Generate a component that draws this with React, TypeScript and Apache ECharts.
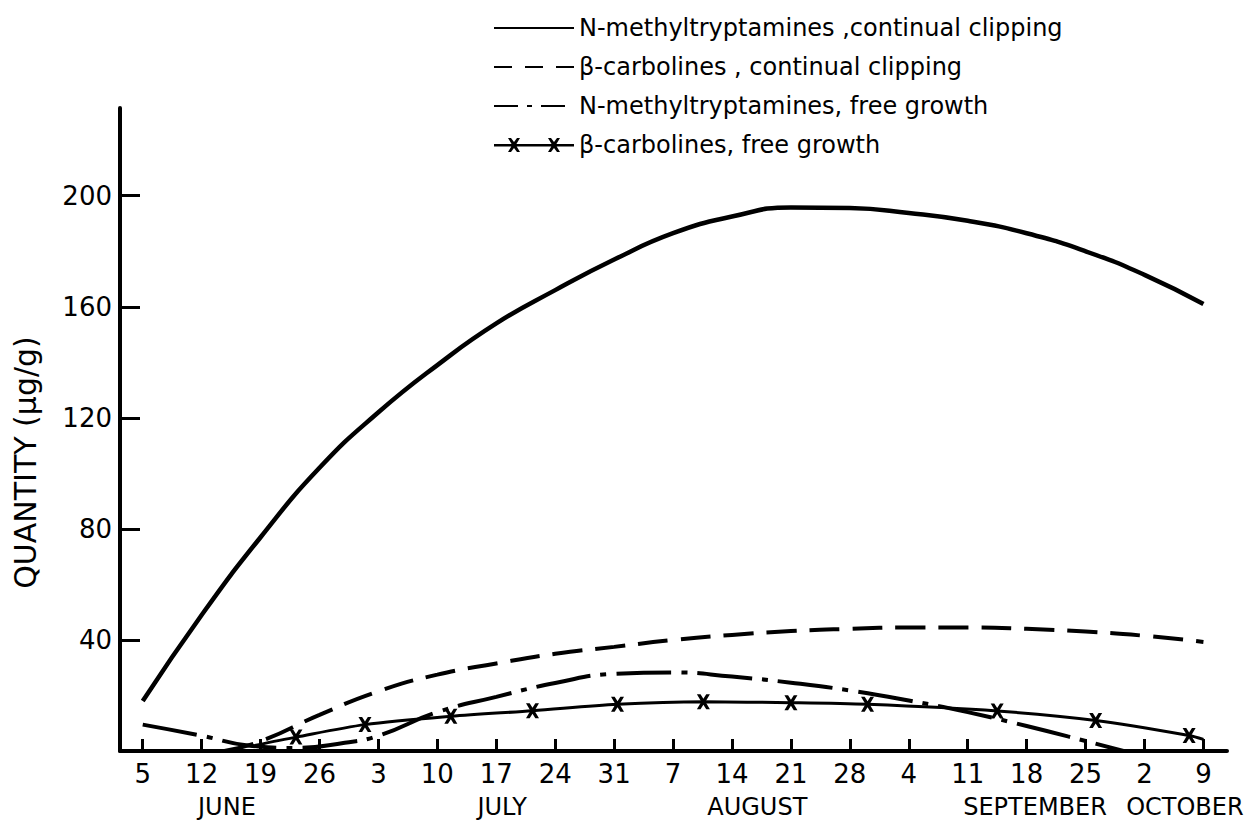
import React, { useEffect, useRef } from "react";
import * as echarts from "echarts";

// x values are days counted from 5 June
const dayTickValues = [0, 7, 14, 21, 28, 35, 42, 49, 56, 63, 70, 77, 84, 91, 98, 105, 112, 119, 126];
const dayTickLabels = ["5", "12", "19", "26", "3", "10", "17", "24", "31", "7", "14", "21", "28", "4", "11", "18", "25", "2", "9"];
const monthLabelValues = [10, 42.7, 73, 106, 123.8];
const monthNames = ["JUNE", "JULY", "AUGUST", "SEPTEMBER", "OCTOBER"];
const yTickValues = [40, 80, 120, 160, 200];

const seriesNames = [
  "N-methyltryptamines ,continual clipping",
  "β-carbolines , continual clipping",
  "N-methyltryptamines, free growth",
  "β-carbolines, free growth",
];

const nmtClipDays = [0, 7, 14, 21, 28, 35, 42, 49, 56, 63, 70, 77, 84, 91, 98, 105, 112, 119, 126];
const nmtClipValues = [18, 49, 77, 102, 122, 139, 154, 166, 177, 186.5, 192.5, 195.8, 195.6, 193.8, 191, 186.5, 180, 171.5, 161];

const bcClipDays = [9.7, 14, 21, 28, 35, 42, 49, 56, 63, 70, 77, 84, 91, 98, 105, 112, 119, 126];
const bcClipValues = [0, 3.5, 13, 21.5, 27.5, 31.5, 35, 37.5, 40, 41.8, 43.2, 44, 44.5, 44.5, 44, 43, 41.5, 39.3];

const nmtFreeDays = [0, 7, 12.5, 18, 24, 28, 35, 42, 49, 56, 63, 70, 77, 84, 91, 98, 105, 112, 116.5];
const nmtFreeValues = [9.5, 5.5, 2, 1.1, 3, 5.5, 14, 19.5, 24.5, 27.8, 28.3, 26.8, 24.6, 21.8, 18.2, 14, 9, 3.6, 0];

const bcFreeDays = [13.3, 18.2, 26.4, 36.6, 46.3, 56.4, 66.6, 77, 86.1, 101.5, 113.2, 124.3, 126];
const bcFreeValues = [2, 5, 9.5, 12.5, 14.5, 16.8, 17.7, 17.4, 16.8, 14.4, 11, 5.6, 4.2];

const FONT = "DejaVu Sans";
const X_SYMBOL =
  "path://M0,0 L2.8,0 L5,3 L7.2,0 L10,0 L6.6,5 L10,10 L7.2,10 L5,7 L2.8,10 L0,10 L3.4,5 Z";
const X_LEGEND_ICON =
  "path://M0,7 L80,7 L80,9.5 L0,9.5 Z " +
  "M14,1 L17,1 L20,5 L23,1 L26,1 L21.8,8 L26,15 L23,15 L20,11 L17,15 L14,15 L18.2,8 Z " +
  "M54,1 L57,1 L60,5 L63,1 L66,1 L61.8,8 L66,15 L63,15 L60,11 L57,15 L54,15 L58.2,8 Z";

function nearestLabel(v: number, values: number[], labels: string[]) {
  let best = -1;
  let bd = Infinity;
  values.forEach((x, i) => {
    const d = Math.abs(x - v);
    if (d < bd) {
      bd = d;
      best = i;
    }
  });
  return bd < 0.5 ? labels[best] : "";
}

export default function App() {
  const ref = useRef<HTMLDivElement>(null);

  useEffect(() => {
    document.body.style.margin = "0";
    const chart = echarts.init(ref.current!, null, { renderer: "svg" });
    const pairs = (xs: number[], ys: number[]) => xs.map((x, i) => [x, ys[i]]);
    const starData = pairs(bcFreeDays, bcFreeValues).map((p, i, arr) =>
      i === 0 || i === arr.length - 1 ? { value: p, symbol: "none" } : { value: p }
    );
    const xMin = -2.7;
    const xMax = 128.8;
    const hidden = { color: "rgba(0,0,0,0)", borderColor: "rgba(0,0,0,0)", borderWidth: 0 };

    chart.setOption({
      animation: false,
      backgroundColor: "#ffffff",
      textStyle: { fontFamily: FONT, color: "#000" },
      legend: {
        orient: "vertical",
        left: 488,
        top: 11,
        itemWidth: 80,
        itemHeight: 16,
        itemGap: 15,
        textStyle: { fontSize: 24, color: "#000", fontFamily: FONT },
        data: [
          { name: seriesNames[0], itemStyle: hidden },
          { name: seriesNames[1], itemStyle: hidden, lineStyle: { type: [18, 13] } },
          { name: seriesNames[2], itemStyle: hidden, lineStyle: { type: [24, 9, 5, 9] } },
          { name: seriesNames[3], icon: X_LEGEND_ICON, itemStyle: { color: "#000" } },
        ],
      },
      grid: { left: 120, right: 22, top: 108, bottom: 72, containLabel: false, outerBoundsMode: "none" },
      xAxis: [
        {
          type: "value",
          min: xMin,
          max: xMax,
          axisLine: { show: true, onZero: false, lineStyle: { color: "#000", width: 4 } },
          axisTick: {
            show: true,
            inside: true,
            length: 12,
            customValues: dayTickValues,
            lineStyle: { color: "#000", width: 3 },
          },
          axisLabel: {
            customValues: dayTickValues,
            formatter: (v: number) => nearestLabel(v, dayTickValues, dayTickLabels),
            fontSize: 26,
            margin: 10,
            color: "#000",
            fontFamily: FONT,
          },
          splitLine: { show: false },
        },
        {
          type: "value",
          min: xMin,
          max: xMax,
          position: "bottom",
          axisLine: { show: false, onZero: false },
          axisTick: { show: false },
          axisLabel: {
            customValues: monthLabelValues,
            formatter: (v: number) => nearestLabel(v, monthLabelValues, monthNames),
            fontSize: 24,
            margin: 44,
            color: "#000",
            fontFamily: FONT,
          },
          splitLine: { show: false },
        },
      ],
      yAxis: {
        type: "value",
        min: 0,
        max: 231.6,
        name: "QUANTITY (μg/g)",
        nameLocation: "middle",
        nameGap: 80,
        nameTextStyle: { fontSize: 30, color: "#000", fontFamily: FONT, padding: [0, 66, 0, 0] },
        axisLine: { show: true, onZero: false, lineStyle: { color: "#000", width: 4 } },
        axisTick: {
          show: true,
          inside: true,
          length: 20,
          customValues: yTickValues,
          lineStyle: { color: "#000", width: 3 },
        },
        axisLabel: {
          customValues: yTickValues,
          fontSize: 26,
          margin: 8,
          color: "#000",
          fontFamily: FONT,
        },
        splitLine: { show: false },
      },
      series: [
        {
          name: seriesNames[0],
          type: "line",
          smooth: 0.5,
          symbol: "none",
          data: pairs(nmtClipDays, nmtClipValues),
          lineStyle: { color: "#000", width: 4.5, type: "solid" },
          itemStyle: { color: "#000" },
        },
        {
          name: seriesNames[1],
          type: "line",
          smooth: 0.5,
          symbol: "none",
          data: pairs(bcClipDays, bcClipValues),
          lineStyle: { color: "#000", width: 4, type: [30, 13] },
          itemStyle: { color: "#000" },
        },
        {
          name: seriesNames[2],
          type: "line",
          smooth: 0.5,
          symbol: "none",
          data: pairs(nmtFreeDays, nmtFreeValues),
          lineStyle: { color: "#000", width: 4, type: [55, 10, 6, 10] },
          itemStyle: { color: "#000" },
        },
        {
          name: seriesNames[3],
          type: "line",
          smooth: 0.3,
          symbol: X_SYMBOL,
          symbolSize: [13, 15],
          showSymbol: true,
          data: starData,
          lineStyle: { color: "#000", width: 3, type: "solid" },
          itemStyle: { color: "#000", borderWidth: 0 },
        },
      ],
    });

    return () => chart.dispose();
  }, []);

  return <div ref={ref} style={{ width: 1249, height: 823, position: "absolute", left: 0, top: 0 }} />;
}
